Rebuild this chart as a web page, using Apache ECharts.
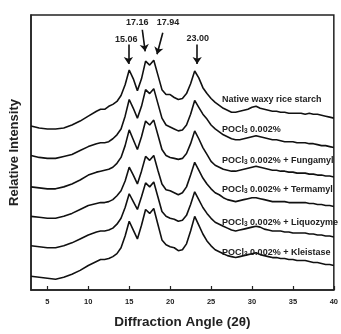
<!DOCTYPE html>
<html>
<head>
<meta charset="utf-8">
<title>XRD waxy rice starch</title>
<script src="https://cdn.jsdelivr.net/npm/echarts@6/dist/echarts.min.js"></script>
<style>
  html, body { margin: 0; padding: 0; background: #fff; }
  #main { width: 341px; height: 334px; }
</style>
</head>
<body>
<div id="main"></div>
<script>
// diffraction angle (2theta)
var angles = [3, 4, 5, 6, 7, 8, 9, 10, 11,
  11.5, 12, 12.5, 13, 13.5, 14, 14.5, 15, 15.5, 16,
  16.5, 17, 17.5, 18, 18.5, 19, 19.5, 20, 20.5, 21,
  21.5, 22, 22.5, 23, 23.5, 24, 24.5, 25, 25.5, 26,
  26.5, 27, 27.5, 28, 28.5, 29, 29.5, 30, 30.5, 31,
  31.5, 32, 32.5, 33, 33.5, 34, 34.5, 35, 35.5, 36,
  36.5, 37, 37.5, 38, 38.5, 39, 39.5, 40];

// relative intensity, stacked with offsets as in the figure
var nativeStarch = [167, 165, 164, 164, 165, 168, 172, 177, 182,
  184, 184, 187, 189, 192, 198, 209, 224, 215, 203,
  215, 233, 229, 234, 219, 204, 199, 199, 196, 194,
  195, 200, 210, 223, 216, 206, 200, 195, 191, 188,
  185, 183, 181, 181, 182, 183, 184, 186, 187, 185,
  184, 183, 182, 182, 181, 181, 180, 180, 180, 180,
  179, 180, 179, 179, 178, 177, 176, 175];
var pocl3 = [137, 135, 134, 134, 136, 138, 142, 146, 149,
  150, 150, 151, 154, 158, 164, 177, 194, 185, 175,
  187, 204, 200, 205, 190, 175, 168, 166, 164, 162,
  163, 168, 179, 193, 186, 179, 174, 168, 164, 161,
  158, 156, 154, 153, 153, 154, 155, 156, 157, 156,
  155, 154, 153, 153, 152, 151, 151, 151, 150, 150,
  150, 149, 149, 148, 147, 147, 146, 145];
var fungamyl = [105, 104, 103, 103, 105, 108, 112, 117, 120,
  121, 122, 123, 125, 129, 135, 147, 163, 153, 143,
  156, 172, 168, 173, 158, 143, 137, 135, 134, 133,
  134, 139, 149, 162, 154, 145, 138, 131, 127, 125,
  123, 122, 121, 121, 122, 123, 124, 125, 126, 125,
  124, 123, 122, 122, 121, 121, 120, 120, 119, 119,
  119, 118, 118, 117, 117, 116, 116, 115];
var termamyl = [75, 74, 73, 73, 75, 78, 82, 86, 88,
  89, 89, 90, 92, 96, 101, 111, 125, 117, 108,
  121, 136, 132, 137, 122, 108, 102, 101, 99, 97,
  99, 105, 117, 130, 122, 114, 108, 103, 99, 97,
  94, 92, 91, 90, 91, 92, 93, 94, 94, 93,
  92, 91, 90, 90, 90, 90, 89, 89, 89, 89,
  89, 88, 88, 87, 87, 86, 86, 85];
var liquozyme = [45, 44, 43, 43, 45, 48, 52, 56, 59,
  60, 60, 61, 63, 67, 73, 84, 98, 90, 82,
  95, 109, 105, 110, 95, 80, 75, 73, 72, 70,
  71, 76, 87, 100, 92, 84, 78, 73, 69, 67,
  65, 63, 61, 60, 61, 62, 63, 64, 65, 64,
  62, 61, 60, 60, 60, 59, 59, 58, 58, 58,
  58, 57, 57, 56, 56, 55, 55, 54];
var kleistase = [14, 13, 12, 11, 13, 16, 20, 25, 29,
  31, 31, 32, 34, 37, 43, 55, 70, 61, 52,
  66, 82, 78, 83, 67, 51, 46, 44, 43, 40,
  41, 47, 60, 75, 66, 57, 50, 45, 41, 39,
  37, 35, 34, 33, 34, 35, 36, 37, 38, 36,
  35, 34, 33, 33, 32, 32, 31, 31, 30, 30,
  30, 29, 28, 28, 27, 26, 26, 25];

var xTicks = [5, 10, 15, 20, 25, 30, 35, 40];
var peakLabels = ['15.06', '17.16', '17.94', '23.00'];

function pairs(ys) {
  var out = [];
  for (var i = 0; i < angles.length; i++) out.push([angles[i], ys[i]]);
  return out;
}

var myChart = echarts.init(document.getElementById('main'));
var lineStyle = { color: '#111', width: 1.6 };
var font = 'Liberation Sans, Arial, sans-serif';

// arrows pointing at the peaks
var arrows = [
  [{ coord: [14.9, 250] }, { coord: [14.9, 230] }],
  [{ coord: [16.6, 265] }, { coord: [16.95, 243] }],
  [{ coord: [19.1, 262] }, { coord: [18.4, 240] }],
  [{ coord: [23.3, 250] }, { coord: [23.3, 230] }]
];
// peak value texts above the arrows
var peakTexts = [
  { coord: [14.64, 255], value: peakLabels[0] },
  { coord: [15.98, 272], value: peakLabels[1] },
  { coord: [19.74, 272], value: peakLabels[2] },
  { coord: [23.38, 256], value: peakLabels[3] }
];

var allSeries = [nativeStarch, pocl3, fungamyl, termamyl, liquozyme, kleistase].map(function (ys, i) {
  var s = {
    type: 'line',
    data: pairs(ys),
    showSymbol: false,
    lineStyle: lineStyle,
    silent: true
  };
  if (i === 0) {
    s.markLine = {
      silent: true,
      symbol: ['none', 'arrow'],
      symbolSize: 7,
      lineStyle: { color: '#111', width: 1.6, type: 'solid' },
      label: { show: false },
      data: arrows
    };
    s.markPoint = {
      silent: true,
      symbol: 'circle',
      symbolSize: 0,
      label: {
        show: true,
        position: 'inside',
        color: '#222',
        fontWeight: 'bold',
        fontSize: 9,
        fontFamily: font,
        formatter: function (p) { return p.value; }
      },
      data: peakTexts
    };
  }
  return s;
});

var curveNames = [
  'Native waxy rice starch',
  'POCl{s|3} 0.002%',
  'POCl{s|3} 0.002% + Fungamyl',
  'POCl{s|3} 0.002% + Termamyl',
  'POCl{s|3} 0.002% + Liquozyme',
  'POCl{s|3} 0.002% + Kleistase'
];
var nameTops = [95, 125, 156, 185, 218, 248];

var option = {
  animation: false,
  grid: {
    left: 30, right: 6, top: 15, bottom: 39,
    show: true, borderColor: '#222', borderWidth: 1.5
  },
  xAxis: {
    type: 'value',
    min: 3,
    max: 40,
    name: 'Diffraction Angle (2θ)',
    nameLocation: 'middle',
    nameGap: 25,
    nameTextStyle: { color: '#222', fontWeight: 'bold', fontSize: 13.5, fontFamily: font },
    axisLine: { lineStyle: { color: '#222', width: 1.5 } },
    axisTick: { inside: true, length: 4, customValues: xTicks, lineStyle: { color: '#222', width: 1.2 } },
    axisLabel: { customValues: xTicks, margin: 8, color: '#222', fontWeight: 'bold', fontSize: 7.5, fontFamily: font },
    splitLine: { show: false }
  },
  yAxis: {
    type: 'value',
    min: 0,
    max: 280,
    name: 'Relative Intensity',
    nameLocation: 'middle',
    nameGap: 10,
    nameTextStyle: { color: '#222', fontWeight: 'bold', fontSize: 13, fontFamily: font },
    axisLine: { show: true, lineStyle: { color: '#222', width: 1.5 } },
    axisTick: { show: false },
    axisLabel: { show: false },
    splitLine: { show: false }
  },
  graphic: curveNames.map(function (t, i) {
    return {
      type: 'text',
      left: 222,
      top: nameTops[i],
      silent: true,
      style: {
        text: t,
        fill: '#222',
        font: 'bold 9px ' + font,
        rich: { s: { fontSize: 6.5, fontWeight: 'bold', fontFamily: font, verticalAlign: 'bottom', padding: [4, 0, 0, 0] } }
      }
    };
  }),
  series: allSeries
};

myChart.setOption(option);
</script>
</body>
</html>
